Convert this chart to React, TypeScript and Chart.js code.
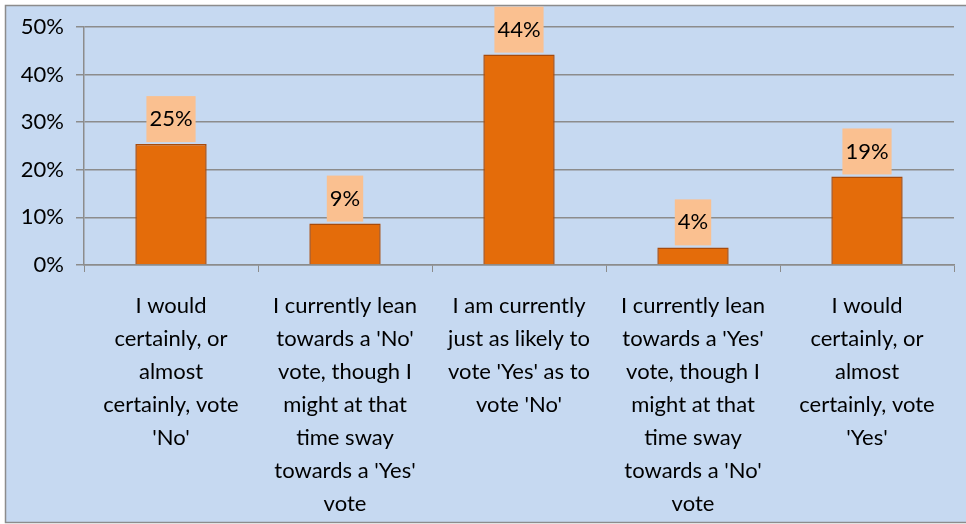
import React, { useEffect, useRef } from "react";
import { Chart, registerables } from "chart.js";

Chart.register(...registerables);

const categories: string[][] = [
  ["I would", "certainly, or", "almost", "certainly, vote", "'No'"],
  ["I currently lean", "towards a 'No'", "vote, though I", "might at that", "time sway", "towards a 'Yes'", "vote"],
  ["I am currently", "just as likely to", "vote 'Yes' as to", "vote 'No'"],
  ["I currently lean", "towards a 'Yes'", "vote, though I", "might at that", "time sway", "towards a 'No'", "vote"],
  ["I would", "certainly, or", "almost", "certainly, vote", "'Yes'"],
];
const values: number[] = [25.4, 8.7, 44.2, 3.7, 18.6];
const yTicks: number[] = [0, 10, 20, 30, 40, 50];

const FONT = "Lato, 'Open Sans', sans-serif";
const BG = "#C6D9F1";

const bgPlugin = {
  id: "bgPlugin",
  beforeDraw(chart: any) {
    const { ctx, width, height } = chart;
    ctx.save();
    ctx.fillStyle = "#ffffff";
    ctx.fillRect(0, 0, width, height);
    ctx.fillStyle = BG;
    ctx.fillRect(5, 5, width - 5, height - 6);
    ctx.strokeStyle = "#8c8c8c";
    ctx.lineWidth = 1.5;
    ctx.strokeRect(5.5, 5.5, width, height - 7);
    ctx.restore();
  },
};

const labelPlugin = {
  id: "valueLabels",
  afterDatasetsDraw(chart: any) {
    const { ctx } = chart;
    const meta = chart.getDatasetMeta(0);
    ctx.save();
    ctx.font = `22px ${FONT}`;
    ctx.textAlign = "center";
    ctx.textBaseline = "middle";
    meta.data.forEach((bar: any, i: number) => {
      const text = Math.round(values[i]) + "%";
      const w = ctx.measureText(text).width + 6;
      const h = 46;
      const bottom = bar.y - 2;
      ctx.fillStyle = "#FAC090";
      ctx.fillRect(bar.x - w / 2, bottom - h, w, h);
      ctx.fillStyle = "#000000";
      ctx.fillText(text, bar.x, bottom - h / 2);
    });
    ctx.restore();
  },
};

export default function App() {
  const ref = useRef<HTMLCanvasElement>(null);
  useEffect(() => {
    const chart = new Chart(ref.current as HTMLCanvasElement, {
      type: "bar",
      data: {
        labels: categories,
        datasets: [
          {
            data: values,
            backgroundColor: "#E46C0A",
            borderColor: "#A84A0A",
            borderWidth: 1.5,
            barPercentage: 0.41,
            categoryPercentage: 1,
          },
        ],
      },
      options: {
        animation: false,
        responsive: false,
        maintainAspectRatio: false,
        layout: { padding: { top: 27, right: 12, left: 0, bottom: 0 } },
        plugins: { legend: { display: false }, tooltip: { enabled: false } },
        scales: {
          x: {
            afterFit(scale: any) {
              scale.height = 259;
            },
            grid: {
              offset: true,
              drawOnChartArea: false,
              drawTicks: true,
              tickLength: 7,
              color: "#8c8c8c",
            },
            border: { color: "#8c8c8c", width: 1.5 },
            ticks: {
              color: "#000",
              font: { family: FONT, size: 22, lineHeight: 33 / 22 },
              padding: 17,
              maxRotation: 0,
              autoSkip: false,
            },
          },
          y: {
            min: 0,
            max: 50,
            afterFit(scale: any) {
              scale.width = 84;
            },
            afterBuildTicks(scale: any) {
              scale.ticks = yTicks.map((v) => ({ value: v }));
            },
            grid: {
              color: "#8c8c8c",
              lineWidth: 1.5,
              tickLength: 8,
            },
            border: { color: "#8c8c8c", width: 1.5 },
            ticks: {
              color: "#000",
              font: { family: FONT, size: 22 },
              padding: 12,
              callback: (v: any) => v + "%",
            },
          },
        },
      },
      plugins: [bgPlugin, labelPlugin],
    });
    return () => chart.destroy();
  }, []);
  return (
    <div style={{ position: "fixed", left: 0, top: 0, width: 966, height: 524 }}>
      <canvas ref={ref} width={966} height={524} style={{ display: "block" }} />
    </div>
  );
}
